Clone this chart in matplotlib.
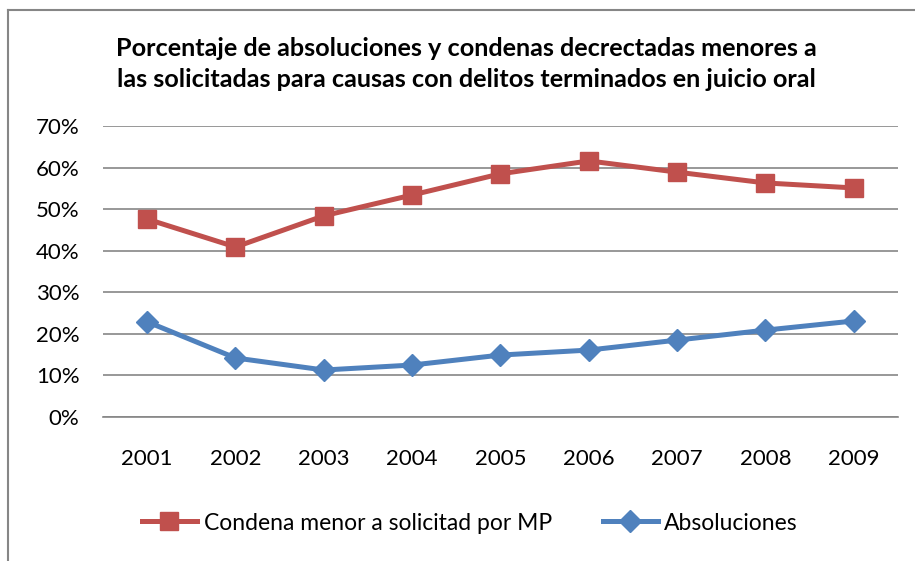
import matplotlib
matplotlib.use("Agg")
import matplotlib.pyplot as plt
from matplotlib.lines import Line2D
from matplotlib.ticker import FuncFormatter, MultipleLocator

years = ["2001", "2002", "2003", "2004", "2005", "2006", "2007", "2008", "2009"]
condena = [47.6, 40.9, 48.4, 53.4, 58.5, 61.6, 58.9, 56.3, 55.1]
absoluciones = [22.9, 14.2, 11.3, 12.5, 14.9, 16.1, 18.5, 20.9, 23.1]
label_condena = "Condena menor a solicitad por MP"
label_abs = "Absoluciones"
title = ("Porcentaje de absoluciones y condenas decrectadas menores a\n"
         "las solicitadas para causas con delitos terminados en juicio oral")

RED = "#C0504D"
BLUE = "#4F81BD"
GRID = "#868686"

plt.rcParams['font.family'] = ['Lato', 'DejaVu Sans']

fig = plt.figure(figsize=(9.15, 5.61), dpi=100)
ax = fig.add_axes([103/915, 1-417/561, (898-103)/915, (417-126)/561])

x = list(range(len(years)))
ax.plot(x, condena, color=RED, lw=3.6, marker='s', ms=13, mec=RED, mfc=RED,
        label=label_condena, zorder=3)
ax.plot(x, absoluciones, color=BLUE, lw=3.6, marker='D', ms=11, mec=BLUE, mfc=BLUE,
        label=label_abs, zorder=3)

ax.set_xlim(-0.5, len(years) - 0.5)
ax.set_ylim(0, 70)
ax.yaxis.set_major_locator(MultipleLocator(10))
ax.yaxis.set_major_formatter(FuncFormatter(lambda v, p: f"{v:.0f}%"))
ax.set_xticks(x)
ax.set_xticklabels(years)
ax.grid(axis='y', color=GRID, lw=1.2)
ax.set_axisbelow(True)
for s in ['left', 'right', 'top']:
    ax.spines[s].set_visible(False)
ax.spines['bottom'].set_color(GRID)
ax.spines['bottom'].set_linewidth(1.2)
ax.tick_params(axis='both', length=0, labelsize=16, colors='black')
ax.tick_params(axis='y', pad=17)
ax.tick_params(axis='x', pad=23)

fig.text(466/915, 1-64/561, title, ha='center', va='center', fontsize=18.2,
         fontweight='bold', linespacing=1.4)

fig.legend(loc='center', bbox_to_anchor=(470/915, 1-523/561), ncol=2, frameon=False,
           fontsize=16.5, handlelength=2.4, columnspacing=2.2, handletextpad=0.3)

# chart border (left and top visible)
fig.add_artist(Line2D([8/915, 8/915], [0, 1-10/561], transform=fig.transFigure,
                      color=GRID, lw=1.5))
fig.add_artist(Line2D([8/915, 1], [1-10/561, 1-10/561], transform=fig.transFigure,
                      color=GRID, lw=1.5))

fig.savefig("out.png", dpi=100)
